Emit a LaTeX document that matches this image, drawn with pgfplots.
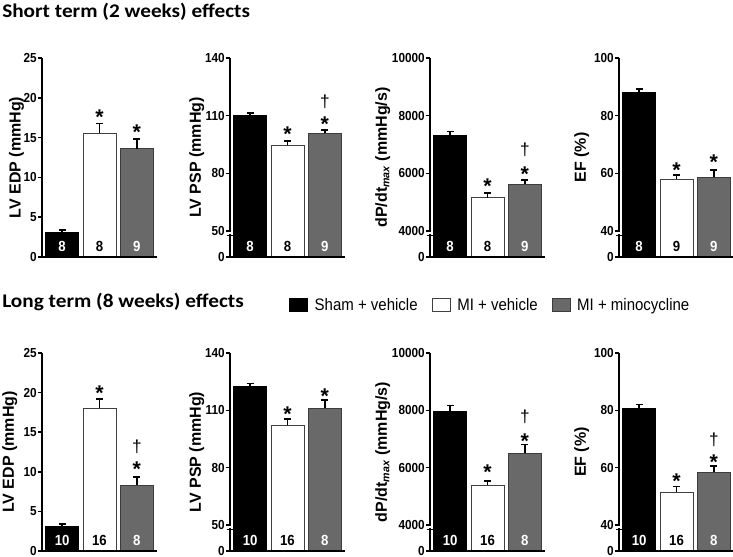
\documentclass[border=0pt]{standalone}
\usepackage{fontspec}
\setmainfont{Liberation Sans}
\newfontfamily\titlefont[FakeStretch=1.1]{Carlito}
\newfontfamily\narrowfont[FakeStretch=0.9]{Liberation Sans}
\usepackage{pgfplots}
\pgfplotsset{compat=1.18}

\definecolor{bargrey}{RGB}{105,105,105}
\definecolor{greyedge}{RGB}{60,60,60}

% one panel = one small bar axis, placed by its lower left corner
\pgfplotsset{
  panel/.style={
    anchor=south west, scale only axis, width=86.25pt,
    xmin=0.46, xmax=3.54, xtick=\empty,
    axis lines*=left, axis line style={line width=1.5pt, -},
    every outer x axis line/.append style={-},
    every outer y axis line/.append style={-},
    tick align=outside, major tick length=3pt,
    ytick style={line width=1.2pt, black},
    scaled y ticks=false,
    yticklabel style={font=\narrowfont\bfseries\fontsize{9.8}{10}\selectfont, inner sep=0.8pt},
    ylabel style={anchor=center, font=\bfseries\fontsize{12}{13}\selectfont},
    ybar, bar width=0.885, bar shift=0pt,
    clip mode=individual, axis on top,
    error bars/y dir=plus, error bars/y explicit,
    error bars/error bar style={line width=1.2pt, black},
    error bars/error mark options={rotate=90, mark size=2.6pt, line width=1.2pt, black},
  },
  toprow/.style={height=149.25pt},
  botrow/.style={height=148.5pt},
  shamv/.style={fill=black, draw=black, line width=0.6pt},
  miv/.style={fill=white, draw=black!75, line width=0.7pt},
  mimin/.style={fill=bargrey, draw=greyedge, line width=0.6pt},
}
\tikzset{
  ann/.style={font=\bfseries\fontsize{16}{16}\selectfont, inner sep=0pt, yshift=-3.4pt},
  dag/.style={font=\fontsize{13}{13}\selectfont, inner sep=0pt},
  cnt/.style={font=\narrowfont\bfseries\fontsize{11}{11}\selectfont, anchor=base, yshift=3.8pt, inner sep=0pt},
  ttl/.style={font=\titlefont\bfseries\fontsize{14.5}{16}\selectfont, anchor=base west, inner sep=0pt},
}

\begin{document}
\begin{tikzpicture}
\useasboundingbox (0,0) rectangle (549.75pt,-417.75pt);

\node[ttl] at (1.5pt,-12.75pt) {Short term (2 weeks) effects};
\node[ttl] at (1.5pt,-230.25pt) {Long term (8 weeks) effects};

% ---------------- short term ----------------
\begin{axis}[panel, toprow, at={(31.5pt,-192.75pt)},
    ymin=0, ymax=25, ytick={0,5,10,15,20,25}, yticklabels={0,5,10,15,20,25},
    ylabel={LV EDP (mmHg)}, ylabel style={at={(axis description cs:-0.222,0.5)}}]
\addplot[shamv] coordinates {(1,3.15) +- (0,0.25)};
\addplot[miv]   coordinates {(2,15.57) +- (0,1.2)};
\addplot[mimin] coordinates {(3,13.6) +- (0,1.25)};
\node[ann] at (axis cs:2,18.2) {*};
\node[ann] at (axis cs:3,16.2) {*};
\node[cnt, text=white] at ({axis cs:1,0} |- {rel axis cs:0,0}) {8};
\node[cnt] at ({axis cs:2,0} |- {rel axis cs:0,0}) {8};
\node[cnt, text=white] at ({axis cs:3,0} |- {rel axis cs:0,0}) {9};
\end{axis}

\begin{axis}[panel, toprow, at={(172.5pt,-192.75pt)},
    ymin=36.47, ymax=140, ytick={36.47,50,80,110,140}, yticklabels={0,50,80,110,140},
    ylabel={LV PSP (mmHg)}, ylabel style={at={(axis description cs:-0.29,0.5)}}]
\addplot[shamv] coordinates {(1,110.0) +- (0,1.4)};
\addplot[miv]   coordinates {(2,94.7) +- (0,2.1)};
\addplot[mimin] coordinates {(3,100.8) +- (0,1.7)};
\node[ann] at (axis cs:2,102.5) {*};
\node[ann] at (axis cs:3,107.7) {*};
\node[dag] at (axis cs:3,117.3) {†};
\node[cnt, text=white] at ({axis cs:1,0} |- {rel axis cs:0,0}) {8};
\node[cnt] at ({axis cs:2,0} |- {rel axis cs:0,0}) {8};
\node[cnt, text=white] at ({axis cs:3,0} |- {rel axis cs:0,0}) {9};
\end{axis}

\begin{axis}[panel, toprow, at={(322.5pt,-192.75pt)},
    ymin=3098, ymax=10000, ytick={3098,4000,6000,8000,10000}, yticklabels={0,4000,6000,8000,10000},
    ylabel={dP/dt\textsubscript{\itshape max} (mmHg/s)}, ylabel style={at={(axis description cs:-0.41,0.5)}}]
\addplot[shamv] coordinates {(1,7305) +- (0,139)};
\addplot[miv]   coordinates {(2,5155) +- (0,153)};
\addplot[mimin] coordinates {(3,5620) +- (0,149)};
\node[ann] at (axis cs:2,5710) {*};
\node[ann] at (axis cs:3,6116) {*};
\node[dag] at (axis cs:3,6810) {†};
\node[cnt, text=white] at ({axis cs:1,0} |- {rel axis cs:0,0}) {8};
\node[cnt] at ({axis cs:2,0} |- {rel axis cs:0,0}) {8};
\node[cnt, text=white] at ({axis cs:3,0} |- {rel axis cs:0,0}) {9};
\end{axis}

\begin{axis}[panel, toprow, at={(464.25pt,-192.75pt)},
    ymin=30.98, ymax=100, ytick={30.98,40,60,80,100}, yticklabels={0,40,60,80,100},
    ylabel={EF (\%)}, ylabel style={at={(axis description cs:-0.325,0.5)}}]
\addplot[shamv] coordinates {(1,88.1) +- (0,1.15)};
\addplot[miv]   coordinates {(2,58.0) +- (0,1.4)};
\addplot[mimin] coordinates {(3,58.6) +- (0,2.6)};
\node[ann] at (axis cs:2,62.5) {*};
\node[ann] at (axis cs:3,65.3) {*};
\node[cnt, text=white] at ({axis cs:1,0} |- {rel axis cs:0,0}) {8};
\node[cnt] at ({axis cs:2,0} |- {rel axis cs:0,0}) {9};
\node[cnt, text=white] at ({axis cs:3,0} |- {rel axis cs:0,0}) {9};
\end{axis}

% ---------------- long term ----------------
\begin{axis}[panel, botrow, at={(31.5pt,-413.25pt)},
    ymin=0, ymax=25, ytick={0,5,10,15,20,25}, yticklabels={0,5,10,15,20,25},
    ylabel={LV EDP (mmHg)}, ylabel style={at={(axis description cs:-0.28,0.5)}}]
\addplot[shamv] coordinates {(1,3.1) +- (0,0.3)};
\addplot[miv]   coordinates {(2,18.0) +- (0,1.2)};
\addplot[mimin] coordinates {(3,8.33) +- (0,1.0)};
\node[ann] at (axis cs:2,20.45) {*};
\node[ann] at (axis cs:3,10.85) {*};
\node[dag] at (axis cs:3,13.17) {†};
\node[cnt, text=white] at ({axis cs:1,0} |- {rel axis cs:0,0}) {10};
\node[cnt] at ({axis cs:2,0} |- {rel axis cs:0,0}) {16};
\node[cnt, text=white] at ({axis cs:3,0} |- {rel axis cs:0,0}) {8};
\end{axis}

\begin{axis}[panel, botrow, at={(172.5pt,-413.25pt)},
    ymin=36.4, ymax=140, ytick={36.4,50,80,110,140}, yticklabels={0,50,80,110,140},
    ylabel={LV PSP (mmHg)}, ylabel style={at={(axis description cs:-0.29,0.5)}},
    legend columns=3,
    legend image code/.code={\draw[#1] (0pt,-4.9pt) rectangle (13.5pt,4.9pt);},
    legend style={draw=none, fill=none, at={(axis description cs:0.478,1.2424)}, anchor=west,
      font=\narrowfont\fontsize{12.5}{13}\selectfont, nodes={inner sep=0pt},
      column sep=5pt, /tikz/every even column/.append style={column sep=10.5pt}}]
\addplot[shamv] coordinates {(1,122.4) +- (0,1.7)};
\addplot[miv]   coordinates {(2,102.3) +- (0,3.2)};
\addplot[mimin] coordinates {(3,111.1) +- (0,4.3)};
\legend{Sham + vehicle, MI + vehicle, MI + minocycline}
\node[ann] at (axis cs:2,110.2) {*};
\node[ann] at (axis cs:3,119.7) {*};
\node[cnt, text=white] at ({axis cs:1,0} |- {rel axis cs:0,0}) {10};
\node[cnt] at ({axis cs:2,0} |- {rel axis cs:0,0}) {16};
\node[cnt, text=white] at ({axis cs:3,0} |- {rel axis cs:0,0}) {8};
\end{axis}

\begin{axis}[panel, botrow, at={(322.5pt,-413.25pt)},
    ymin=3093, ymax=10000, ytick={3093,4000,6000,8000,10000}, yticklabels={0,4000,6000,8000,10000},
    ylabel={dP/dt\textsubscript{\itshape max} (mmHg/s)}, ylabel style={at={(axis description cs:-0.41,0.5)}}]
\addplot[shamv] coordinates {(1,7953) +- (0,209)};
\addplot[miv]   coordinates {(2,5396) +- (0,139)};
\addplot[mimin] coordinates {(3,6501) +- (0,314)};
\node[ann] at (axis cs:2,5989) {*};
\node[ann] at (axis cs:3,7081) {*};
\node[dag] at (axis cs:3,7778) {†};
\node[cnt, text=white] at ({axis cs:1,0} |- {rel axis cs:0,0}) {10};
\node[cnt] at ({axis cs:2,0} |- {rel axis cs:0,0}) {16};
\node[cnt, text=white] at ({axis cs:3,0} |- {rel axis cs:0,0}) {8};
\end{axis}

\begin{axis}[panel, botrow, at={(464.25pt,-413.25pt)},
    ymin=30.93, ymax=100, ytick={30.93,40,60,80,100}, yticklabels={0,40,60,80,100},
    ylabel={EF (\%)}, ylabel style={at={(axis description cs:-0.325,0.5)}}]
\addplot[shamv] coordinates {(1,80.7) +- (0,1.4)};
\addplot[miv]   coordinates {(2,51.4) +- (0,2.0)};
\addplot[mimin] coordinates {(3,58.4) +- (0,2.2)};
\node[ann] at (axis cs:2,56.85) {*};
\node[ann] at (axis cs:3,63.5) {*};
\node[dag] at (axis cs:3,69.65) {†};
\node[cnt, text=white] at ({axis cs:1,0} |- {rel axis cs:0,0}) {10};
\node[cnt] at ({axis cs:2,0} |- {rel axis cs:0,0}) {16};
\node[cnt, text=white] at ({axis cs:3,0} |- {rel axis cs:0,0}) {8};
\end{axis}

% axis breaks just under the lowest upper tick
\foreach \bx/\by in {172.5/-173.25, 322.5/-173.25, 464.25/-173.25,
                     172.5/-393.75, 322.5/-393.75, 464.25/-393.75}{
  \fill[white] (\bx pt-1.2pt,\by pt-0.8pt) rectangle (\bx pt+1.2pt,\by pt-2.6pt);
  \draw[line width=1.1pt] (\bx pt-2.4pt,\by pt-3.3pt) -- (\bx pt+1.9pt,\by pt-3.3pt);
}
\end{tikzpicture}
\end{document}
